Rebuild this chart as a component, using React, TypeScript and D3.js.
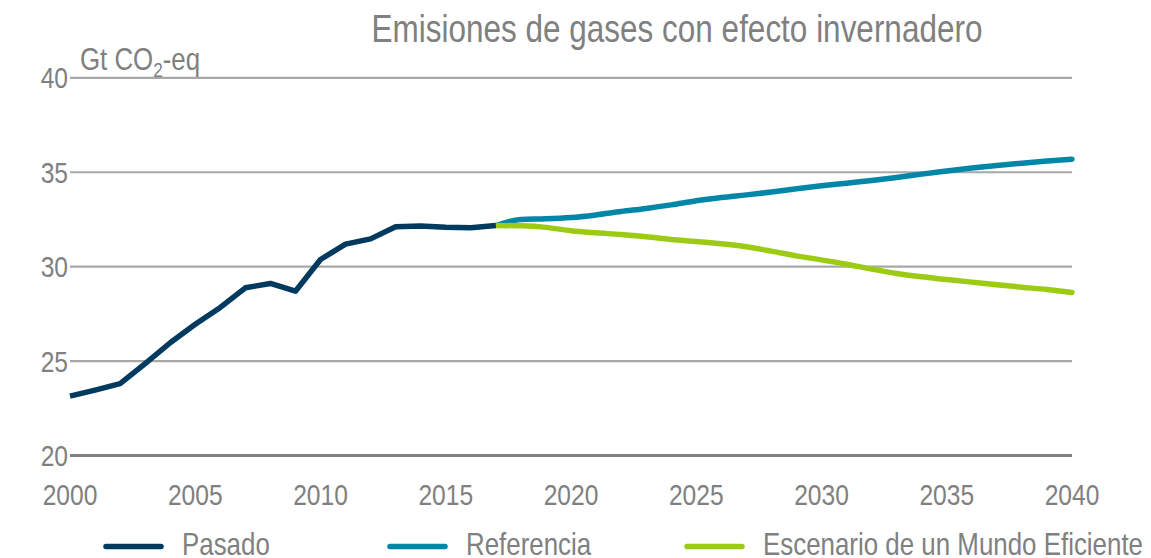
import React, { useEffect, useRef } from "react";
import * as d3 from "d3";

const pastYears = [2000, 2001, 2002, 2003, 2004, 2005, 2006, 2007, 2008, 2009, 2010, 2011, 2012, 2013, 2014, 2015, 2016, 2017];
const pastValues = [23.14, 23.46, 23.81, 24.87, 25.97, 26.95, 27.84, 28.88, 29.11, 28.7, 30.38, 31.19, 31.47, 32.11, 32.15, 32.09, 32.06, 32.18];

const futureYears = [2017, 2018, 2019, 2020, 2021, 2022, 2023, 2024, 2025, 2026, 2027, 2028, 2029, 2030, 2031, 2032, 2033, 2034, 2035, 2036, 2037, 2038, 2039, 2040];
const referenceValues = [32.18, 32.5, 32.53, 32.6, 32.74, 32.92, 33.08, 33.27, 33.49, 33.66, 33.8, 33.95, 34.12, 34.28, 34.42, 34.56, 34.72, 34.9, 35.06, 35.22, 35.36, 35.48, 35.59, 35.69];
const efficientValues = [32.18, 32.16, 32.08, 31.9, 31.79, 31.7, 31.58, 31.44, 31.33, 31.21, 31.05, 30.82, 30.57, 30.36, 30.13, 29.87, 29.64, 29.46, 29.32, 29.18, 29.04, 28.91, 28.79, 28.63];

const yTicks = [20, 25, 30, 35, 40];
const xTicks = [2000, 2005, 2010, 2015, 2020, 2025, 2030, 2035, 2040];

const seriesNames = ["Pasado", "Referencia", "Escenario de un Mundo Eficiente"];
const seriesColors = ["#003a5f", "#0087a8", "#9ccb14"];

const FONT = "'Liberation Sans', Arial, sans-serif";
const TEXT = "#808080";
const NARROW = 0.82;

export default function App() {
  const ref = useRef<SVGSVGElement | null>(null);

  useEffect(() => {
    const svg = d3.select(ref.current);
    svg.selectAll("*").remove();

    const x = d3.scaleLinear().domain([2000, 2040]).range([70, 1072]);
    const y = d3.scaleLinear().domain([20, 40]).range([455.5, 77.8]);

    const narrowText = (
      parent: d3.Selection<any, any, any, any>,
      tx: number,
      ty: number,
      size: number,
      anchor: string,
      str: string
    ) =>
      parent
        .append("text")
        .attr("transform", `translate(${tx},${ty}) scale(${NARROW},1)`)
        .attr("text-anchor", anchor)
        .attr("font-family", FONT)
        .attr("font-size", size)
        .attr("fill", TEXT)
        .text(str);

    // gridlines
    svg.append("g")
      .selectAll("line")
      .data(yTicks)
      .join("line")
      .attr("x1", x(2000))
      .attr("x2", x(2040))
      .attr("y1", (d) => y(d))
      .attr("y2", (d) => y(d))
      .attr("stroke", (d) => (d === 20 ? "#808080" : "#a8a8a8"))
      .attr("stroke-width", (d) => (d === 20 ? 3 : 2.2));

    // y tick labels
    const gy = svg.append("g");
    yTicks.forEach((d) => narrowText(gy, 68, y(d) + 10.5, 30, "end", String(d)));

    // x tick labels
    const gx = svg.append("g");
    xTicks.forEach((d) => narrowText(gx, x(d), 505, 30, "middle", String(d)));

    // unit label
    const unit = svg.append("text")
      .attr("transform", `translate(80,70) scale(${NARROW},1)`)
      .attr("font-family", FONT)
      .attr("font-size", 31.5)
      .attr("fill", TEXT);
    unit.append("tspan").text("Gt CO");
    unit.append("tspan").attr("font-size", 21).attr("dy", 7).text("2");
    unit.append("tspan").attr("dy", -7).text("-eq");

    // title
    narrowText(svg, 677, 42, 38.4, "middle", "Emisiones de gases con efecto invernadero");

    const line = d3.line<[number, number]>()
      .x((d) => x(d[0]))
      .y((d) => y(d[1]))
      .curve(d3.curveMonotoneX);

    const lineLinear = d3.line<[number, number]>()
      .x((d) => x(d[0]))
      .y((d) => y(d[1]));

    const datasets: [number, number][][] = [
      pastYears.map((yr, i) => [yr, pastValues[i]]),
      futureYears.map((yr, i) => [yr, referenceValues[i]]),
      futureYears.map((yr, i) => [yr, efficientValues[i]]),
    ];

    [1, 2, 0].forEach((i) => {
      svg.append("path")
        .datum(datasets[i])
        .attr("d", i === 0 ? lineLinear : line)
        .attr("fill", "none")
        .attr("stroke", seriesColors[i])
        .attr("stroke-width", 5.5)
        .attr("stroke-linejoin", "round")
        .attr("stroke-linecap", i === 0 ? "butt" : "round");
    });

    // legend
    const legendX = [106, 390, 687];
    const lg = svg.append("g");
    seriesNames.forEach((name, i) => {
      lg.append("line")
        .attr("x1", legendX[i])
        .attr("x2", legendX[i] + 55)
        .attr("y1", 546.5)
        .attr("y2", 546.5)
        .attr("stroke", seriesColors[i])
        .attr("stroke-width", 5.5)
        .attr("stroke-linecap", "round");
      narrowText(lg, legendX[i] + 76, 555, 31.6, "start", name);
    });
  }, []);

  return (
    <svg
      ref={ref}
      width={1151}
      height={558}
      style={{ position: "absolute", left: 0, top: 0, background: "#fff" }}
    />
  );
}
